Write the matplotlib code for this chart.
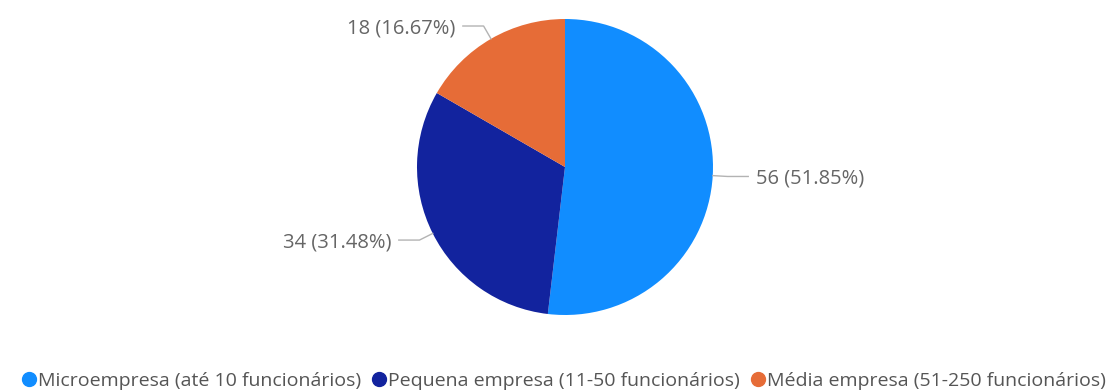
import numpy as np
import matplotlib.pyplot as plt
from matplotlib.lines import Line2D

plt.rcParams['font.family'] = ['Open Sans', 'DejaVu Sans']

categories = ['Microempresa (até 10 funcionários)',
              'Pequena empresa (11-50 funcionários)',
              'Média empresa (51-250 funcionários)']
counts = [56, 34, 18]
colors = ['#118DFF', '#12239E', '#E66C37']

total = sum(counts)
labels = ['{} ({:.2f}%)'.format(c, 100.0 * c / total) for c in counts]

W, H = 1115, 392
fig = plt.figure(figsize=(W / 100, H / 100), dpi=100)
cx, cy, r = 565, 167, 148
ax = fig.add_axes([(cx - r) / W, (H - cy - r) / H, 2 * r / W, 2 * r / H])
wedges, _ = ax.pie(counts, colors=colors, startangle=90, counterclock=False,
                   radius=1.0, wedgeprops=dict(linewidth=0))
ax.set_xlim(-1, 1)
ax.set_ylim(-1, 1)
ax.set_aspect('equal')
ax.axis('off')

line_col = '#b3b3b3'
text_col = '#666666'
for w, lab in zip(wedges, labels):
    ang = np.deg2rad((w.theta1 + w.theta2) / 2)
    x0, y0 = 1.0 * np.cos(ang), 1.0 * np.sin(ang)
    x1, y1 = 1.1 * np.cos(ang), 1.1 * np.sin(ang)
    side = 1 if np.cos(ang) >= 0 else -1
    x2 = x1 + side * 0.14
    ax.plot([x0, x1, x2], [y0, y1, y1], color=line_col, lw=1, clip_on=False)
    ax.text(x2 + side * 0.05, y1 - 0.015, lab, ha='left' if side > 0 else 'right',
            va='center', fontsize=14.5, color=text_col, clip_on=False)

handles = [Line2D([], [], marker='o', linestyle='', markersize=10,
                  markerfacecolor=c, markeredgecolor=c) for c in colors]
fig.legend(handles, categories, loc='center', bbox_to_anchor=(563 / W, 11 / H),
           ncol=3, frameon=False, fontsize=14, handletextpad=0.0,
           columnspacing=0.5, labelcolor='#555555', handlelength=0.9)

fig.savefig('out.png', dpi=100)
